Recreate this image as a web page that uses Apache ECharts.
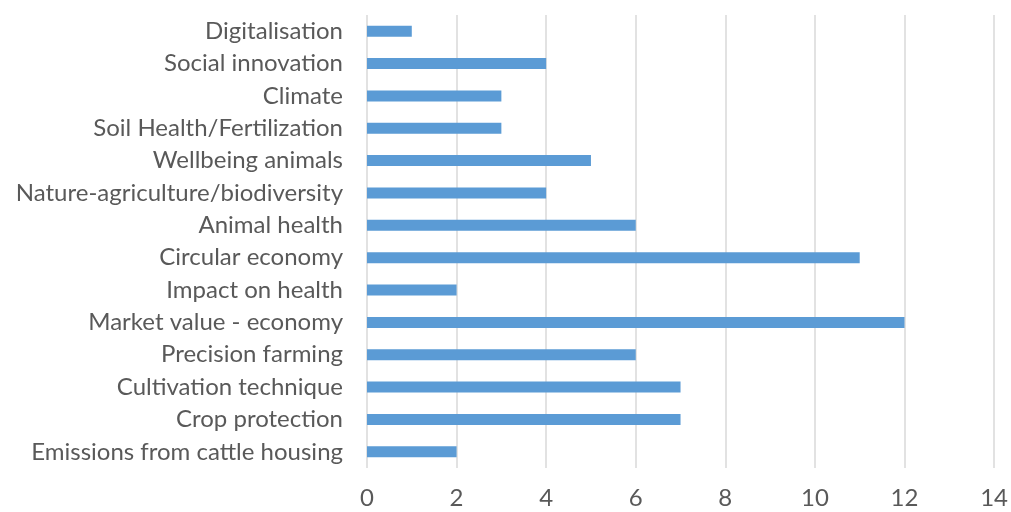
<!DOCTYPE html>
<html>
<head>
<meta charset="utf-8">
<script src="https://cdn.jsdelivr.net/npm/echarts@6/dist/echarts.min.js"></script>
<style>
  html, body { margin: 0; padding: 0; background: #fff; }
  #chart { width: 1011px; height: 512px; }
</style>
</head>
<body>
<div id="chart"></div>
<script>
// Topics, listed bottom to top as on the category axis
const categories = [
  'Emissions from cattle housing',
  'Crop protection',
  'Cultivation technique',
  'Precision farming',
  'Market value - economy',
  'Impact on health',
  'Circular economy',
  'Animal health',
  'Nature-agriculture/biodiversity',
  'Wellbeing animals',
  'Soil Health/Fertilization',
  'Climate',
  'Social innovation',
  'Digitalisation'
];
const counts = [2, 7, 7, 6, 12, 2, 11, 6, 4, 5, 3, 3, 4, 1];
const xTicks = { min: 0, max: 14, interval: 2 };

const chart = echarts.init(document.getElementById('chart'), null, { renderer: 'canvas' });
const labelFont = 'Lato, "Open Sans", sans-serif';

chart.setOption({
  animation: false,
  backgroundColor: '#ffffff',
  grid: { left: 367, right: 15, top: 15, bottom: 44, containLabel: false },
  xAxis: {
    type: 'value',
    min: xTicks.min,
    max: xTicks.max,
    interval: xTicks.interval,
    axisLine: { show: false },
    axisTick: { show: false },
    splitLine: { show: true, lineStyle: { color: '#d9d9d9', width: 1.5 } },
    axisLabel: { color: '#595959', fontSize: 24, fontFamily: labelFont, margin: 18 }
  },
  yAxis: {
    type: 'category',
    data: categories,
    axisLine: { show: false },
    axisTick: { show: false },
    splitLine: { show: false },
    axisLabel: { color: '#595959', fontSize: 24, fontFamily: labelFont, margin: 24, interval: 0 }
  },
  series: [{
    type: 'bar',
    data: counts,
    barWidth: 11,
    itemStyle: { color: '#5b9bd5' }
  }]
});
</script>
</body>
</html>
